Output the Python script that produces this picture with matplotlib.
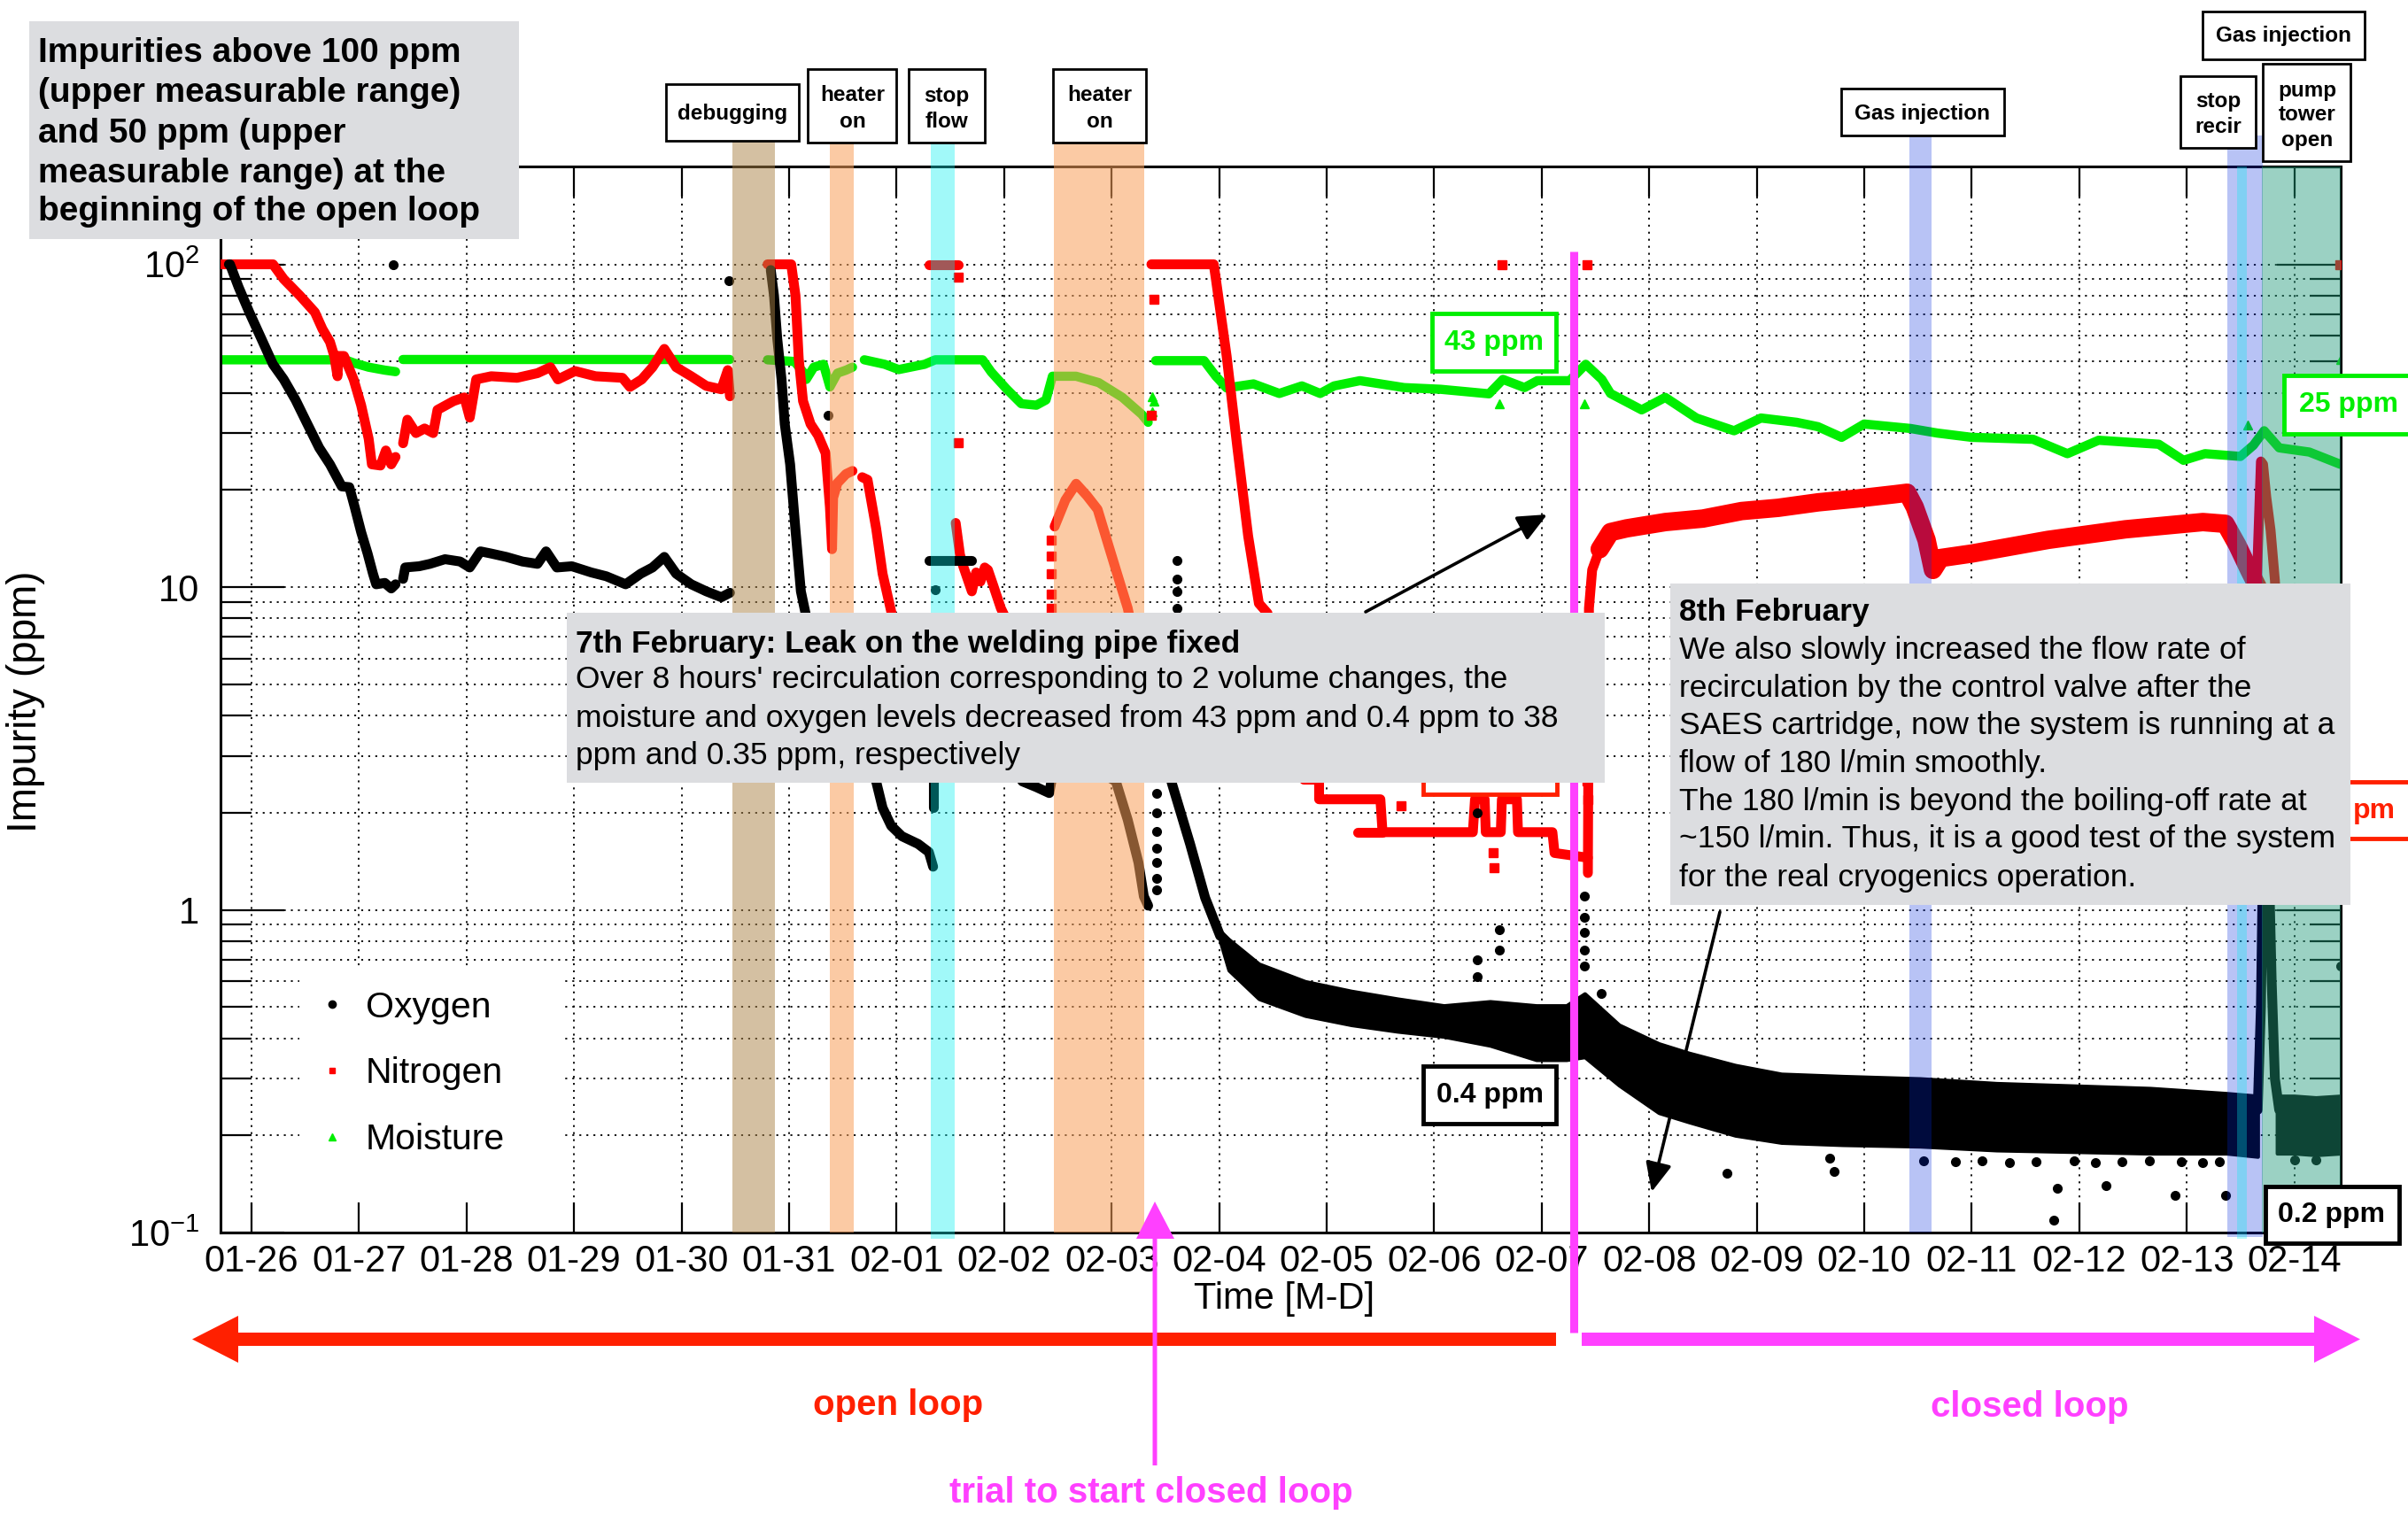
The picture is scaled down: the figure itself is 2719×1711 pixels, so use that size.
import matplotlib
matplotlib.use('Agg')
import matplotlib.pyplot as plt
import matplotlib.transforms as mtransforms
from matplotlib.patches import Rectangle, Polygon, FancyArrowPatch
from matplotlib.lines import Line2D
from matplotlib.ticker import LogLocator, NullFormatter

plt.rcParams['font.family'] = ['Liberation Sans', 'DejaVu Sans']
plt.rcParams['mathtext.fontset'] = 'custom'
plt.rcParams['mathtext.rm'] = 'Liberation Sans'
plt.rcParams['mathtext.it'] = 'Liberation Sans:italic'
plt.rcParams['mathtext.bf'] = 'Liberation Sans:bold'
plt.rcParams['axes.unicode_minus'] = False

# ---------------- data: x = days since 01-26 00:00, y = ppm ----------------
tick_days = list(range(20))
tick_labels = ['01-26', '01-27', '01-28', '01-29', '01-30', '01-31', '02-01', '02-02',
               '02-03', '02-04', '02-05', '02-06', '02-07', '02-08', '02-09', '02-10',
               '02-11', '02-12', '02-13', '02-14']

# Oxygen
o2_a_day = [-0.21, -0.20, -0.12, -0.02, 0.09, 0.20, 0.30, 0.41, 0.52, 0.63, 0.73, 0.84, 0.91,
            0.96, 1.02, 1.08, 1.13, 1.16, 1.24, 1.30, 1.34]
o2_a_ppm = [100, 100, 85, 71, 59, 49, 44, 38, 32, 27, 24, 20.5, 20.4, 17.7, 14.8, 12.7, 11.0,
            10.2, 10.3, 9.9, 10.2]
o2_b_day = [1.41, 1.43, 1.56, 1.66, 1.80, 1.94, 2.03, 2.13, 2.23, 2.37, 2.52, 2.66, 2.74, 2.84,
            2.98, 3.16, 3.30, 3.48, 3.62, 3.73, 3.84, 3.95, 4.09, 4.23, 4.37, 4.45]
o2_b_ppm = [10.6, 11.5, 11.6, 11.8, 12.2, 12.0, 11.5, 12.9, 12.7, 12.4, 12.0, 11.8, 12.9, 11.5,
            11.6, 11.1, 10.8, 10.2, 11.0, 11.5, 12.4, 11.0, 10.2, 9.7, 9.3, 9.6]
o2_c_day = [4.83, 4.86, 4.89, 4.93, 4.96, 5.01, 5.06, 5.11, 5.20, 5.40, 5.60, 5.81, 5.87, 5.95,
            6.05, 6.20, 6.30, 6.34]
o2_c_ppm = [96, 80, 59, 44, 32, 24, 15, 9.7, 7.0, 4.5, 3.3, 2.5, 2.07, 1.82, 1.69, 1.60, 1.51, 1.36]
o2_d_day = [6.30, 6.70]
o2_d_ppm = [12.1, 12.1]
o2_e_day = [6.34, 6.34]
o2_e_ppm = [2.5, 2.07]
o2_f_day = [6.72, 6.90, 7.05, 7.17, 7.30, 7.42, 7.50, 7.70, 7.90, 7.95, 8.04, 8.15, 8.25, 8.30, 8.34]
o2_f_ppm = [5.5, 4.0, 3.0, 2.5, 2.4, 2.3, 3.2, 4.5, 3.0, 2.6, 2.5, 1.9, 1.4, 1.1, 1.03]
o2_g_day = [8.46, 8.51, 8.56, 8.73, 8.87, 9.01]
o2_g_ppm = [3.5, 2.9, 2.47, 1.60, 1.09, 0.83]
o2_band_day = [9.01, 9.09, 9.37, 9.80, 10.23, 10.66, 11.09, 11.52, 11.95, 12.23, 12.40, 12.72,
               13.09, 13.37, 13.80, 14.23, 14.80, 15.52, 16.23, 16.95, 17.66, 18.37, 18.66]
o2_band_hi = [0.86, 0.81, 0.68, 0.60, 0.56, 0.53, 0.505, 0.52, 0.505, 0.505, 0.55, 0.44,
              0.385, 0.36, 0.33, 0.31, 0.305, 0.30, 0.29, 0.285, 0.28, 0.27, 0.265]
o2_band_lo = [0.80, 0.65, 0.53, 0.47, 0.44, 0.42, 0.405, 0.38, 0.343, 0.343, 0.35, 0.286,
              0.235, 0.22, 0.20, 0.19, 0.187, 0.185, 0.18, 0.178, 0.176, 0.176, 0.172]
o2_spike_day = [18.66, 18.69, 18.71, 18.73, 18.76, 18.79, 18.82, 18.86]
o2_spike_ppm = [0.24, 0.5, 1.5, 3.5, 1.6, 0.6, 0.3, 0.24]
o2_end_day = [18.84, 19.00, 19.20, 19.43]
o2_end_hi = [0.265, 0.265, 0.262, 0.265]
o2_end_lo = [0.176, 0.176, 0.174, 0.176]
o2_dot_day = [1.32, 4.44, 5.36, 6.36, 8.61, 8.61, 8.61, 8.61, 8.42, 8.42, 8.42, 8.42, 8.42,
              8.42, 8.42, 12.40, 12.40, 12.40, 12.40, 12.40, 11.40, 11.40, 11.61, 11.61, 12.55,
              13.72, 14.68, 14.72, 16.76, 16.80, 17.25, 17.89, 18.36, 19.43, 11.40,
              15.55, 15.85, 16.10, 16.35, 16.60, 16.95, 17.15, 17.40, 17.65, 17.95, 18.15, 18.30,
              19.00, 19.20]
o2_dot_ppm = [100, 89, 34, 9.8, 12.1, 10.6, 9.7, 8.6, 2.3, 2.0, 1.75, 1.55, 1.4, 1.25, 1.15,
              1.1, 0.95, 0.85, 0.75, 0.67, 0.70, 0.62, 0.87, 0.75, 0.55,
              0.153, 0.17, 0.155, 0.109, 0.137, 0.14, 0.13, 0.13, 0.67, 2.0,
              0.167, 0.166, 0.167, 0.165, 0.166, 0.167, 0.165, 0.166, 0.167, 0.166, 0.165, 0.166,
              0.168, 0.168]

# Nitrogen
n2_a_day = [-0.30, 0.20, 0.30, 0.45, 0.59, 0.66, 0.73, 0.77, 0.80, 0.81, 0.86, 0.95, 1.02, 1.09,
            1.12, 1.20, 1.25, 1.30, 1.34]
n2_a_ppm = [100, 100, 90, 80, 71, 63, 57.5, 52, 45, 52, 52, 44, 36.6, 28.8, 24, 23.8, 26.5, 24, 25.3]
n2_b_day = [1.41, 1.45, 1.53, 1.61, 1.69, 1.73, 1.88, 1.98, 2.03, 2.09, 2.23, 2.47, 2.66, 2.78,
            2.85, 3.01, 3.20, 3.45, 3.52, 3.63, 3.73, 3.84, 3.95, 4.09, 4.23, 4.37, 4.43, 4.45]
n2_b_ppm = [27.9, 33, 30, 31, 30, 35.4, 37.7, 38.7, 33.5, 44, 45, 44.5, 46, 48, 44, 46.7, 45,
            44.5, 41.7, 44, 48, 54.7, 48, 45, 42, 41, 47, 39]
n2_c_day = [4.80, 5.02, 5.06, 5.09, 5.13, 5.20, 5.27, 5.34, 5.38, 5.40, 5.41, 5.45, 5.53, 5.59]
n2_c_ppm = [100, 100, 80, 51, 37.7, 32, 29.5, 26, 17.7, 13.1, 18.9, 21, 22.4, 22.9]
n2_d_day = [5.68, 5.73, 5.81, 5.87, 5.95, 6.02, 6.12, 6.22]
n2_d_ppm = [21.9, 21.5, 15.2, 11.0, 8.4, 6.5, 5.0, 4.5]
n2_e_day = [6.30, 6.57]
n2_e_ppm = [100, 100]
n2_f_day = [6.55, 6.59, 6.62, 6.70, 6.74, 6.78, 6.82, 6.85, 6.90, 6.97, 7.00, 7.10, 7.25, 7.40]
n2_f_ppm = [15.8, 12.6, 11.6, 9.7, 11.1, 10.4, 11.5, 11.3, 10.1, 8.6, 8.2, 6.0, 5.0, 4.5]
n2_g_day = [7.47, 7.57, 7.67, 7.77, 7.87, 7.97, 8.07, 8.15, 8.25, 8.33]
n2_g_ppm = [15.4, 18.6, 20.9, 19.2, 17.4, 13.5, 10.5, 8.6, 6.0, 4.5]
n2_h_day = [8.37, 8.95, 8.97, 9.07, 9.17, 9.27, 9.37, 9.45, 9.60, 9.75, 9.79, 9.93, 9.93, 10.50,
            10.52, 11.36, 11.38, 11.47, 11.48, 11.62, 11.63, 11.77, 11.78, 12.10, 12.12, 12.43]
n2_h_ppm = [100, 100, 90, 52, 27, 14.4, 8.9, 8.3, 4.0, 2.8, 2.53, 2.53, 2.2, 2.2, 1.74, 1.74,
            2.2, 2.2, 1.74, 1.74, 2.2, 2.2, 1.74, 1.74, 1.5, 1.45]
n2_i_day = [10.29, 10.52]
n2_i_ppm = [1.74, 1.74]
n2_rise_day = [12.43, 12.44, 12.47, 12.54]
n2_rise_ppm = [1.3, 8.6, 11.3, 13.1]
n2_j_day = [12.54, 12.64, 12.79, 13.15, 13.50, 13.86, 14.20, 14.57, 14.93, 15.29, 15.40, 15.47,
            15.58, 15.64, 15.71, 16.00, 16.71, 17.43, 18.15, 18.36, 18.47, 18.58, 18.66]
n2_j_ppm = [13.1, 14.8, 15.2, 15.9, 16.3, 17.2, 17.6, 18.3, 18.8, 19.4, 19.6, 17.7, 14.0, 11.3,
            12.3, 12.7, 14.0, 15.1, 15.9, 15.7, 13.5, 11.3, 10.0]
n2_k_day = [18.65, 18.69, 18.71, 18.74, 18.78, 18.82, 18.84]
n2_k_ppm = [10, 24.5, 24, 19, 15, 10.5, 8]
n2_dot_day = [6.57, 6.57, 8.39, 8.37, 11.63, 12.42, 19.42, 10.69, 11.55, 11.56, 12.43, 12.42,
              7.44, 7.44, 7.44, 7.44, 7.44]
n2_dot_ppm = [91, 28, 78, 34, 100, 100, 100, 2.1, 1.5, 1.35, 2.2, 2.5, 9.5, 11, 12.5, 14, 8.6]

# Moisture
h2o_a_day = [-0.32, 0.87, 0.95, 1.09, 1.24, 1.34]
h2o_a_ppm = [50.6, 50.6, 49.5, 48, 47, 46.5]
h2o_b_day = [1.41, 4.45]
h2o_b_ppm = [50.6, 50.6]
h2o_c_day = [4.80, 5.05, 5.13, 5.16, 5.23, 5.32, 5.38, 5.45, 5.53, 5.59]
h2o_c_ppm = [50.6, 50, 46.4, 44, 48, 49, 41.7, 46, 47, 48]
h2o_d_day = [5.70, 5.89, 6.02, 6.26, 6.36, 6.80, 6.88, 7.02, 7.16, 7.30, 7.39, 7.45, 7.67, 7.88,
             8.10, 8.28, 8.34]
h2o_d_ppm = [50.6, 49, 47.2, 49, 50.6, 50.6, 46.4, 41.2, 37, 36.6, 38, 45, 45, 43, 38.7, 34.3, 32.4]
h2o_e_day = [8.41, 8.86, 8.97, 9.07, 9.32, 9.56, 9.77, 9.94, 10.07, 10.31, 10.72, 11.06, 11.51,
             11.64, 11.84, 11.96, 12.26, 12.41, 12.56, 12.64, 12.93, 13.15, 13.44, 13.79, 14.04,
             14.37, 14.57, 14.79, 15.00, 15.43, 15.68, 16.00, 16.57, 16.89, 17.18, 17.74, 17.97,
             18.17, 18.50, 18.62, 18.72, 18.86, 19.14, 19.43]
h2o_e_ppm = [50.3, 50.3, 45, 41.4, 42.6, 39.8, 42, 39.8, 42, 43.6, 41.5, 41, 39.7, 44, 41.5, 43.6,
             43.6, 49, 44, 39.8, 35.4, 38.7, 33.4, 30.5, 33.4, 32.4, 31.4, 29.1, 32, 31, 30, 29.1,
             28.7, 25.9, 28.5, 27.7, 24.7, 25.9, 25.4, 27.5, 30.5, 27, 26.2, 24]
h2o_dot_day = [11.61, 12.40, 8.39, 8.38, 8.38, 18.57, 19.43]
h2o_dot_ppm = [37, 37, 37.7, 35, 39, 31.7, 50.6]

# event bands (day start, day end, color, alpha, y-bottom, y-top in axes fraction)
bands = [
    (4.47, 4.87, (170/255, 130/255, 70/255), 0.5, 0.0, 1.024),     # debugging
    (5.38, 5.60, (248/255, 160/255, 90/255), 0.55, 0.0, 1.022),    # heater on
    (6.32, 6.54, (0.0, 240/255, 240/255), 0.37, -0.006, 1.022),    # stop flow
    (7.46, 8.30, (248/255, 160/255, 90/255), 0.55, 0.0, 1.022),    # heater on
    (15.42, 15.63, (0.0, 40/255, 220/255), 0.28, 0.0, 1.029),      # gas injection
    (18.38, 18.71, (0.0, 40/255, 220/255), 0.28, -0.004, 1.029),   # gas injection / stop recir
    (18.47, 18.56, (0.0, 240/255, 240/255), 0.30, -0.006, 1.0),    # stop recir
    (18.70, 19.43, (33/255, 155/255, 122/255), 0.45, 0.0, 1.0),    # pump tower open
]
closed_loop_start = 12.30
trial_closed_loop = 8.40

# ---------------- figure ----------------
W, H = 2719, 1711
fig = plt.figure(figsize=(W / 100, H / 100), dpi=100)
AX_L, AX_R, AX_T, AX_B = 249, 2643, 188, 1392
ax = fig.add_axes([AX_L / W, 1 - AX_B / H, (AX_R - AX_L) / W, (AX_B - AX_T) / H])
ax.set_yscale('log')
ax.set_xlim(-0.288, 19.432)
ax.set_ylim(0.1, 201)

GREEN = '#00ee00'
RED = '#ff0000'
MAG = '#ff40ff'

def line(d, p, c, lw, z):
    ax.plot(d, p, color=c, lw=lw, solid_capstyle='round', solid_joinstyle='round', zorder=z)

for d, p in [(h2o_a_day, h2o_a_ppm), (h2o_b_day, h2o_b_ppm), (h2o_c_day, h2o_c_ppm),
             (h2o_d_day, h2o_d_ppm), (h2o_e_day, h2o_e_ppm)]:
    line(d, p, GREEN, 7.5, 2)
ax.plot(h2o_dot_day, h2o_dot_ppm, ls='none', marker='^', ms=7, color=GREEN, zorder=2)

for d, p in [(n2_a_day, n2_a_ppm), (n2_b_day, n2_b_ppm), (n2_c_day, n2_c_ppm),
             (n2_d_day, n2_d_ppm), (n2_e_day, n2_e_ppm), (n2_f_day, n2_f_ppm),
             (n2_g_day, n2_g_ppm), (n2_h_day, n2_h_ppm), (n2_i_day, n2_i_ppm),
             (n2_rise_day, n2_rise_ppm), (n2_k_day, n2_k_ppm)]:
    line(d, p, RED, 8, 3)
line(n2_j_day, n2_j_ppm, RED, 15, 3)
ax.plot(n2_dot_day, n2_dot_ppm, ls='none', marker='s', ms=7, color=RED, zorder=3)

for d, p in [(o2_a_day, o2_a_ppm), (o2_b_day, o2_b_ppm), (o2_c_day, o2_c_ppm),
             (o2_d_day, o2_d_ppm), (o2_e_day, o2_e_ppm), (o2_f_day, o2_f_ppm),
             (o2_g_day, o2_g_ppm), (o2_spike_day, o2_spike_ppm)]:
    line(d, p, 'black', 8, 4)
ax.fill_between(o2_band_day, o2_band_lo, o2_band_hi, color='black', lw=3, zorder=4)
ax.fill_between(o2_end_day, o2_end_lo, o2_end_hi, color='black', lw=3, zorder=4)
ax.plot(o2_dot_day, o2_dot_ppm, ls='none', marker='o', ms=7, color='black', zorder=4)

blend = mtransforms.blended_transform_factory(ax.transData, ax.transAxes)
for x0, x1, c, a, yb, yt in bands:
    ax.add_patch(Rectangle((x0, yb), x1 - x0, yt - yb, transform=blend, facecolor=c, alpha=a,
                           lw=0, clip_on=False, zorder=5))

# closed-loop start line
ax.plot([closed_loop_start, closed_loop_start],
        [(AX_B - 284) / (AX_B - AX_T), (AX_B - 1505) / (AX_B - AX_T)],
        transform=blend, color=MAG, lw=6.5, clip_on=False, zorder=7, solid_capstyle='butt')

# axes styling
ax.set_xticks(tick_days)
ax.set_xticklabels(tick_labels)
ax.set_yticks([0.1, 1, 10, 100])
ax.set_yticklabels([r'$\mathregular{10^{-1}}$', '1', '10', r'$\mathregular{10^{2}}$'])
ax.yaxis.set_minor_locator(LogLocator(base=10, subs=[2, 3, 4, 5, 6, 7, 8, 9], numticks=20))
ax.yaxis.set_minor_formatter(NullFormatter())
ax.set_axisbelow(True)
gridkw = dict(color='black', lw=1.3, ls=(0, (1.2, 3.2)))
ax.grid(True, which='major', axis='x', **gridkw)
ax.grid(True, which='both', axis='y', **gridkw)
ax.tick_params(which='both', direction='in', top=True, right=True, width=1.6, colors='black')
ax.tick_params(axis='x', which='major', length=24.5, pad=9, labelsize=30)
ax.tick_params(axis='y', which='major', length=52, pad=17, labelsize=30)
ax.tick_params(axis='y', which='minor', length=25)
for s in ax.spines.values():
    s.set_linewidth(2.2)

# white legend area (covers the grid as in the reference)
ax.add_patch(Rectangle(((338 - AX_L) / (AX_R - AX_L), (AX_B - 1357) / (AX_B - AX_T)),
                       (633 - 338) / (AX_R - AX_L), (1357 - 1094) / (AX_B - AX_T),
                       transform=ax.transAxes, facecolor='white', edgecolor='none', zorder=5.5))
leg_handles = [Line2D([], [], ls='none', marker='o', color='black', markersize=6),
               Line2D([], [], ls='none', marker='s', color=RED, markersize=5),
               Line2D([], [], ls='none', marker='^', color=GREEN, markersize=6)]
leg = ax.legend(leg_handles, ['Oxygen', 'Nitrogen', 'Moisture'], loc='upper left',
                bbox_to_anchor=((338 - AX_L) / (AX_R - AX_L), (AX_B - 1094) / (AX_B - AX_T)),
                fontsize=29.5, borderpad=0.6, handlelength=0.6, handletextpad=0.62,
                labelspacing=0.9, borderaxespad=0, fancybox=False, frameon=False)
leg.set_zorder(6)

# ---------------- annotations (figure pixel helpers) ----------------
def fx(x):
    return x / W

def fy(y):
    return 1 - y / H

def box(x0, y0, x1, y1, fc='white', ec='black', lw=2.0, z=12):
    fig.add_artist(Rectangle((fx(x0), fy(y1)), (x1 - x0) / W, (y1 - y0) / H,
                             transform=fig.transFigure, facecolor=fc, edgecolor=ec,
                             linewidth=lw, zorder=z))

def txt(x, y, s, z=13, **kw):
    fig.text(fx(x), fy(y), s, zorder=z, **kw)

fig.text(fx(1450), fy(1467), 'Time [M-D]', ha='center', va='center', fontsize=30)
fig.text(fx(29), fy(792), 'Impurity (ppm)', ha='center', va='center', rotation=90, fontsize=33)

GRAY = '#dcdde0'
# top-left note
box(33, 24, 586, 270, fc=GRAY, ec='none', lw=0)
for s, y in zip(['Impurities above 100 ppm', '(upper measurable range)', 'and 50 ppm (upper',
                 'measurable range) at the', 'beginning of the open loop'],
                [60, 105, 151, 196, 239]):
    txt(43, y, s, ha='left', va='center', fontsize=28, fontweight='bold')

# event label boxes
ev = dict(ha='center', va='center', fontsize=17.5, fontweight='bold')
box(752, 95, 902, 159)
txt(827, 129, 'debugging', **ev)
box(912, 78, 1012, 161)
txt(963, 108, 'heater', **ev); txt(963, 138, 'on', **ev)
box(1026, 78, 1112, 161)
txt(1069, 108, 'stop', **ev); txt(1069, 138, 'flow', **ev)
box(1189, 78, 1294, 161)
txt(1242, 108, 'heater', **ev); txt(1242, 138, 'on', **ev)
box(2079, 100, 2263, 153)
txt(2171, 128, 'Gas injection', **ev)
box(2487, 13, 2670, 67)
txt(2579, 41, 'Gas injection', **ev)
box(2462, 86, 2547, 167)
txt(2505, 115, 'stop', **ev); txt(2505, 143, 'recir', **ev)
box(2555, 72, 2654, 182)
txt(2605, 102, 'pump', **ev); txt(2605, 130, 'tower', **ev); txt(2605, 159, 'open', **ev)

# value labels
vl = dict(ha='center', va='center', fontsize=23, fontweight='bold')
box(1617, 354, 1757, 419, ec=GREEN, lw=3.5, z=9)
txt(1687, 387, '43 ppm', color=GREEN, z=9.5, **vl)
box(2579, 424, 2740, 490, ec=GREEN, lw=3.5, z=9)
txt(2652, 457, '25 ppm', color=GREEN, z=9.5, **vl)
box(1607, 1204, 1757, 1269, lw=3.5, z=9)
txt(1682, 1237, '0.4 ppm', z=9.5, **vl)
box(2558, 1340, 2709, 1404, lw=3.5, z=9)
txt(2633, 1372, '0.2 ppm', z=9.5, **vl)
box(1607, 832, 1758, 897, ec='#ff2000', lw=3.5, z=9)
box(2575, 883, 2740, 947, ec='#ff2000', lw=3.5, z=9)
txt(2657, 916, 'pm', color='#ff2000', z=9.5, ha='left', va='center', fontsize=23,
    fontweight='bold')

# 7th February note
box(640, 692, 1812, 884, fc=GRAY, ec='none', lw=0)
note7 = ["Over 8 hours' recirculation corresponding to 2 volume changes, the",
         'moisture and oxygen levels decreased from 43 ppm and 0.4 ppm to 38',
         'ppm and 0.35 ppm, respectively']
txt(650, 727, '7th February: Leak on the welding pipe fixed', ha='left', va='center',
    fontsize=25.5, fontweight='bold')
for s, y in zip(note7, [768, 811, 854]):
    txt(650, y, s, ha='left', va='center', fontsize=25.5)

# 8th February note
box(1886, 659, 2654, 1022, fc=GRAY, ec='none', lw=0)
note8 = ['We also slowly increased the flow rate of',
         'recirculation by the control valve after the',
         'SAES cartridge, now the system is running at a',
         'flow of 180 l/min smoothly.',
         'The 180 l/min is beyond the boiling-off rate at',
         '~150 l/min. Thus, it is a good test of the system',
         'for the real cryogenics operation.']
txt(1896, 691, '8th February', ha='left', va='center', fontsize=25.5, fontweight='bold')
for s, y in zip(note8, [734, 777, 820, 862, 905, 947, 991]):
    txt(1896, y, s, ha='left', va='center', fontsize=25.5)

# black pointer arrows
for (xa, ya), (xb, yb) in [((1542, 691), (1747, 581)), ((1942, 1030), (1865, 1346))]:
    fig.add_artist(FancyArrowPatch((fx(xa), fy(ya)), (fx(xb), fy(yb)), transform=fig.transFigure,
                                   arrowstyle='-|>,head_length=1.0,head_width=0.45',
                                   mutation_scale=20, lw=2.6, color='black', zorder=14,
                                   shrinkA=0, shrinkB=0))

# loop arrows
def poly(pts, color):
    fig.add_artist(Polygon([(fx(x), fy(y)) for x, y in pts], closed=True,
                           transform=fig.transFigure, facecolor=color, edgecolor='none',
                           zorder=10))

poly([(1757, 1505), (269, 1505), (269, 1486), (217, 1512.5), (269, 1539), (269, 1520),
      (1757, 1520)], '#ff2000')
poly([(1786, 1505), (2613, 1505), (2613, 1486), (2665, 1512.5), (2613, 1539), (2613, 1520),
      (1786, 1520)], MAG)
poly([(1301.5, 1655), (1301.5, 1399), (1283, 1399), (1304, 1357), (1326, 1399), (1306.5, 1399),
      (1306.5, 1655)], MAG)

txt(1014, 1587, 'open loop', ha='center', va='center', fontsize=29, fontweight='bold',
    color='#ff2000')
txt(2292, 1589, 'closed loop', ha='center', va='center', fontsize=29, fontweight='bold',
    color=MAG)
txt(1300, 1686, 'trial to start closed loop', ha='center', va='center', fontsize=29,
    fontweight='bold', color=MAG)

fig.savefig('out.png', dpi=100)
